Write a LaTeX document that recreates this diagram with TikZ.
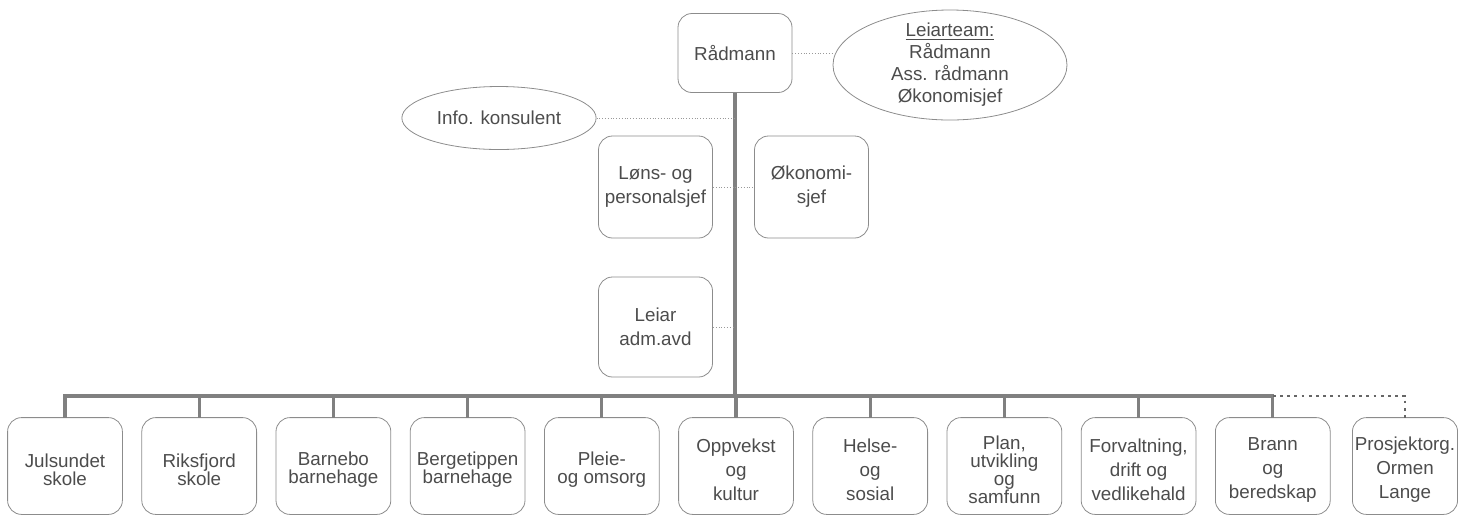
\documentclass[tikz,border=0pt]{standalone}
\usepackage{fontspec}
\setmainfont{Liberation Sans}
\usetikzlibrary{shapes.geometric}
\begin{document}
\begin{tikzpicture}[x=0.5pt,y=-0.5pt,
    unit/.style={draw=black!45,rounded corners=7pt,align=center,
      minimum width=57pt,inner sep=1pt,text=black!70,
      font=\fontsize{9.4}{9}\selectfont},
    frame/.style={draw=black!45,rounded corners=7pt},
    flat/.style={},
    tall/.style={font=\fontsize{9.4}{12}\selectfont},
    oval/.style={ellipse,draw=black!45,align=center,text=black!70,
      font=\fontsize{9.4}{11}\selectfont},
    trunk/.style={draw=black!50,line width=1.6pt},
    aside/.style={draw=black!40,densely dotted,thin},
    later/.style={draw=black!60,line width=1.4pt,dash pattern=on 1.4pt off 2.2pt}]
  \useasboundingbox (0,0) rectangle (1458,516);
  % top
  \node[unit,minimum height=39.5pt] (radmann) at (735,53) {Rådmann};
  \node[oval,inner sep=-3pt,minimum width=117pt,minimum height=55pt] (team) at (950,65)
    {\underline{Leiarteam:}\\Rådmann\\Ass. rådmann\\Økonomisjef};
  \node[oval,minimum width=86pt,minimum height=31.5pt] (info) at (499,118) {Info. konsulent};
  \node[unit,tall,minimum height=51pt] (lons) at (655.5,187) {Løns- og\\personalsjef};
  \node[unit,tall,minimum height=51pt] (okonomi) at (811.5,187) {Økonomi-\\sjef};
  \node[unit,tall,minimum height=50pt] (admavd) at (655.5,327) {Leiar\\adm.avd};
  \coordinate (bar) at (735,396);
  \draw[trunk] (radmann) -- (bar);
  \draw[aside] (radmann.east) -- (radmann.east -| team.west);
  \draw[aside] (info.east) -- (info.east -| bar);
  \draw[aside] (lons.east) -- (okonomi.west);
  \draw[aside] (admavd.east) -- (admavd.east -| bar);
  % units, frames end a little above the node's foot
  \foreach \i/\sty/\txt in {1/flat/{Julsundet\\skole},2/flat/{Riksfjord\\skole},
      3/flat/{Barnebo\\barnehage},4/flat/{Bergetippen\\barnehage},
      5/flat/{Pleie-\\og omsorg},6/tall/{Oppvekst\\og\\kultur},
      7/tall/{Helse-\\og\\sosial},8/flat/{Plan,\\utvikling\\og\\samfunn},
      9/tall/{Forvaltning,\\drift og\\vedlikehald},10/tall/{Brann\\og\\beredskap}}
  {
    \node[unit,\sty,draw=none,minimum height=52pt] (u\i) at ({65+134.2*(\i-1)},470) {\txt};
    \draw[frame] (u\i.north west) rectangle ([yshift=4pt]u\i.south east);
  }
  \node[unit,tall,draw=none,minimum height=52pt,minimum width=52pt] (u11) at (1405,470)
    {Prosjektorg.\\Ormen\\Lange};
  \draw[frame] (u11.north west) rectangle ([yshift=4pt]u11.south east);
  \draw[trunk] (u1.north) -- (u1.north |- bar) -- (u10.north |- bar) -- (u10.north);
  \foreach \i in {2,...,9}
    \draw[trunk] (u\i.north) -- (u\i.north |- bar);
  \draw[later] (u10.north |- bar) -| (u11.north);
\end{tikzpicture}
\end{document}
